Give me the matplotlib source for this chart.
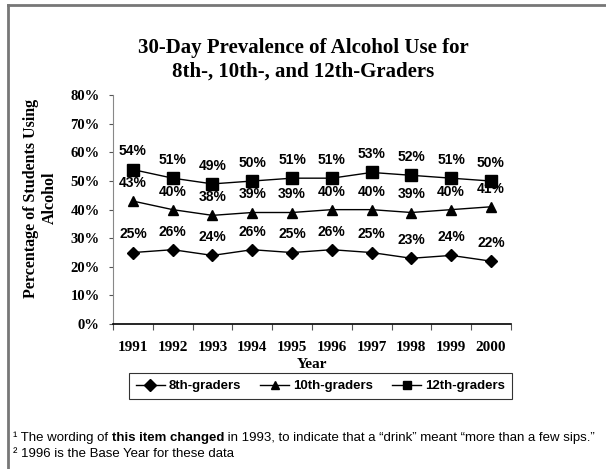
import matplotlib
matplotlib.use("Agg")
import matplotlib.pyplot as plt
from matplotlib.lines import Line2D

years = ["1991", "1992", "1993", "1994", "1995", "1996", "1997", "1998", "1999", "2000"]
grade8 = [25, 26, 24, 26, 25, 26, 25, 23, 24, 22]
grade10 = [43, 40, 38, 39, 39, 40, 40, 39, 40, 41]
grade12 = [54, 51, 49, 50, 51, 51, 53, 52, 51, 50]
series_names = ["8th-graders", "10th-graders", "12th-graders"]
yticks = [0, 10, 20, 30, 40, 50, 60, 70, 80]

serif = ["Liberation Serif", "DejaVu Serif"]
sans = ["Liberation Sans", "DejaVu Sans"]
narrow = ["Liberation Sans Narrow", "Liberation Sans", "DejaVu Sans"]

fig = plt.figure(figsize=(6.06, 4.69), dpi=100)
ax = fig.add_axes([0.1865, 0.309, 0.6565, 0.488])

# outer frame (only top/left visible in the original crop)
fig.add_artist(Line2D([8/606, 8/606], [0, 1 - 5/469], color="#777777", lw=2, transform=fig.transFigure))
fig.add_artist(Line2D([8/606, 1], [1 - 5/469, 1 - 5/469], color="#777777", lw=2, transform=fig.transFigure))

x = list(range(len(years)))
styles = [("D", 6, grade8), ("^", 7, grade10), ("s", 8, grade12)]
handles = []
for (m, ms, vals), name in zip(styles, series_names):
    h, = ax.plot(x, vals, color="black", lw=1, marker=m, markersize=ms, label=name)
    handles.append(h)
    for xi, v in zip(x, vals):
        ax.annotate(f"{v}%", (xi, v), xytext=(0, 8), textcoords="offset points",
                    ha="center", va="bottom", fontsize=10, fontweight="bold", family=sans)

ax.set_xlim(-0.5, 9.5)
ax.set_ylim(0, 80)
ax.set_yticks(yticks)
ax.set_yticklabels([f"{t}%" for t in yticks], family=serif, fontsize=10.5, fontweight="bold")
ax.set_xticks([i - 0.5 for i in range(len(years) + 1)])
ax.set_xticklabels([])
ax.set_xticks(x, minor=True)
ax.set_xticklabels(years, minor=True, family=serif, fontsize=11, fontweight="bold")
ax.tick_params(axis="x", which="minor", length=0, pad=12)
ax.tick_params(axis="x", which="major", length=4, color="#555555")
ax.tick_params(axis="y", length=3, color="#555555", pad=6.5)

for s in ["top", "right"]:
    ax.spines[s].set_visible(False)
ax.spines["left"].set_color("#888888")
ax.spines["bottom"].set_color("black")
ax.spines["bottom"].set_linewidth(1.2)

ax.set_xlabel("Year", family=serif, fontsize=11, fontweight="bold", labelpad=3)
ax.set_ylabel("Percentage of Students Using\nAlcohol", family=serif, fontsize=11.5,
              fontweight="bold", linespacing=1.2)
ax.yaxis.set_label_coords(-0.139, 0.55)

fig.text(0.5, 1 - 60/469, "30-Day Prevalence of Alcohol Use for\n8th-, 10th-, and 12th-Graders",
         ha="center", va="center", family=serif, fontsize=15, fontweight="bold", linespacing=1.25)

leg = fig.legend(handles=handles, loc="center", bbox_to_anchor=(320.5/606, 1 - 386/469), ncol=3,
                 frameon=True, fancybox=False, edgecolor="black", handlelength=2.2,
                 columnspacing=1.45, handletextpad=0.3, borderpad=0.5,
                 prop={"family": sans, "size": 9.5, "weight": "bold"})
leg.get_frame().set_linewidth(0.8)
for h in leg.legend_handles:
    h.set_markersize(6)

# footnotes with mixed weights
fig.canvas.draw()
renderer = fig.canvas.get_renderer()
parts = [("\u00b9 The wording of ", "normal"), ("this item changed", "bold"),
         (" in 1993, to indicate that a \u201cdrink\u201d meant \u201cmore than a few sips.\u201d", "normal")]
xpos = 13
for txt, w in parts:
    t = fig.text(xpos/606, 1 - 438/469, txt, ha="left", va="center", family=narrow,
                 fontsize=9.5, fontweight=w)
    bb = t.get_window_extent(renderer)
    xpos = bb.x1
fig.text(13/606, 1 - 454/469, "\u00b2 1996 is the Base Year for these data", ha="left", va="center",
         family=narrow, fontsize=9.5)

fig.savefig("out.png", dpi=100)
